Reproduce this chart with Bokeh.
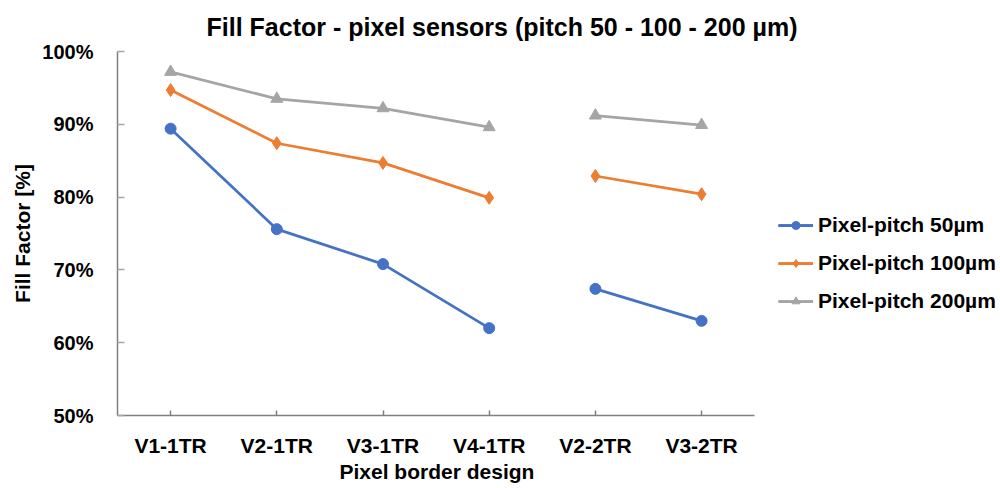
from bokeh.plotting import figure
from bokeh.models import Range1d, NumeralTickFormatter, Legend, LegendItem, FixedTicker, Title
from bokeh.embed import file_html
from bokeh.resources import INLINE

# ---- data ----
designs = ["V1-1TR", "V2-1TR", "V3-1TR", "V4-1TR", "V2-2TR", "V3-2TR"]
design_group = ["1TR", "1TR", "1TR", "1TR", "2TR", "2TR"]
ff_pitch_50 = [0.894, 0.756, 0.708, 0.620, 0.674, 0.630]
ff_pitch_100 = [0.947, 0.874, 0.847, 0.799, 0.829, 0.804]
ff_pitch_200 = [0.972, 0.935, 0.922, 0.896, 0.912, 0.899]
series_names = ["Pixel-pitch 50µm", "Pixel-pitch 100µm", "Pixel-pitch 200µm"]
y_ticks = [0.5, 0.6, 0.7, 0.8, 0.9, 1.0]
x_title = "Pixel border design"
y_title = "Fill Factor [%]"
chart_title = "Fill Factor - pixel sensors (pitch 50 - 100 - 200 µm)"

FONT = "Liberation Sans"

# category positions on the x axis (one slot per design)
x_idx = list(range(len(designs)))

W, H = 1000, 487
BL, BT, BB = 117, 51, 72
frame_w = W - BL
slot_px = 106.2
x_end = -0.5 + frame_w / slot_px

p = figure(width=W, height=H,
           x_range=Range1d(-0.5, x_end), y_range=Range1d(0.5, 1.0),
           output_backend="svg", toolbar_location=None,
           min_border_left=BL, min_border_right=0,
           min_border_top=BT, min_border_bottom=BB)
p.outline_line_color = None
p.xgrid.grid_line_color = None
p.ygrid.grid_line_color = None

# title
p.title.text = chart_title
p.title.text_font = FONT
p.title.text_font_size = "25px"
p.title.text_font_style = "bold"
p.title.text_color = "black"
p.title.align = "left"
p.title.offset = 89
p.title.standoff = 21
p.title.vertical_align = "bottom"

axis_color = "#7f7f7f"
# x axis
xa = p.xaxis[0]
xa.bounds = (-0.5, len(designs) - 0.5)
xa.ticker = FixedTicker(ticks=x_idx)
xa.major_label_overrides = {i: d for i, d in zip(x_idx, designs)}
xa.minor_tick_line_color = None
xa.major_label_text_font = FONT
xa.major_label_text_font_size = "21px"
xa.major_label_text_font_style = "bold"
xa.major_label_text_color = "black"
xa.major_label_standoff = 18
xa.major_tick_in = 5
xa.major_tick_out = 0
xa.axis_line_color = axis_color
xa.axis_line_width = 1.5
xa.major_tick_line_color = axis_color
xa.major_tick_line_width = 1.5

# x axis title, centred under the category slots
x_lab = Title(text=x_title, text_font=FONT, text_font_size="21px",
              text_font_style="bold", text_color="black",
              align="left", offset=222, standoff=0, vertical_align="top")
p.add_layout(x_lab, "below")

# y axis
ya = p.yaxis[0]
ya.ticker = FixedTicker(ticks=y_ticks)
ya.formatter = NumeralTickFormatter(format="0%")
ya.axis_label = y_title
ya.axis_label_text_font = FONT
ya.axis_label_text_font_size = "21px"
ya.axis_label_text_font_style = "bold"
ya.axis_label_text_color = "black"
ya.axis_label_standoff = 5
ya.major_label_text_font = FONT
ya.major_label_text_font_size = "20px"
ya.major_label_text_font_style = "bold"
ya.major_label_text_color = "black"
ya.major_label_standoff = 24
ya.major_tick_in = 7
ya.major_tick_out = 0
ya.minor_tick_line_color = None
ya.axis_line_color = axis_color
ya.axis_line_width = 1.5
ya.major_tick_line_color = "#a6a6a6"
ya.major_tick_line_width = 1.5

colors = ["#4472C4", "#ED7D31", "#A5A5A5"]
markers = ["circle", "diamond", "triangle"]
sizes = [11, 13, 12]
series = [ff_pitch_50, ff_pitch_100, ff_pitch_200]

items = []
for vals, name, col, mk, sz in zip(series, series_names, colors, markers, sizes):
    rends = []
    for g in ["1TR", "2TR"]:
        xs = [x for x, gg in zip(x_idx, design_group) if gg == g]
        ys = [v for v, gg in zip(vals, design_group) if gg == g]
        rends.append(p.line(xs, ys, line_color=col, line_width=2.75))
    rends.append(p.scatter(x_idx, vals, marker=mk, size=sz,
                           fill_color=col, line_color=col))
    items.append(LegendItem(label=name, renderers=rends))

legend = Legend(items=items, location=(661, 102), orientation="vertical",
                label_text_font=FONT, label_text_font_size="21px",
                label_text_font_style="bold", label_text_color="black",
                glyph_width=35, glyph_height=20, label_standoff=5,
                spacing=14, padding=0, margin=0,
                border_line_color=None, background_fill_alpha=0)
p.add_layout(legend, "center")

open("out.html", "w").write(file_html(p, INLINE))
